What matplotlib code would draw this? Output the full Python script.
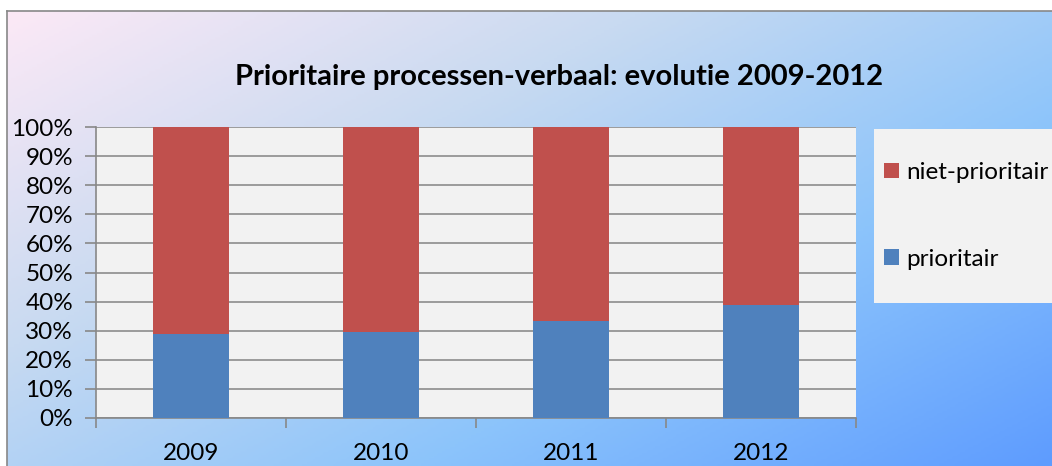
import numpy as np
import matplotlib.pyplot as plt
from matplotlib.patches import Rectangle
from matplotlib.colors import LinearSegmentedColormap

# Data (share of processen-verbaal)
years = ["2009", "2010", "2011", "2012"]
prioritair = [0.289, 0.295, 0.333, 0.388]
niet_prioritair = [1 - p for p in prioritair]

W, H = 1052, 466
fig = plt.figure(figsize=(W / 100, H / 100), dpi=100)
fig.patch.set_facecolor("white")

# gradient background of the chart area
bg = fig.add_axes([7 / W, 0, 1 - 7 / W, (H - 11) / H])
yy, xx = np.mgrid[0:1:200j, 0:1:400j]
t = 0.55 * xx + 0.45 * yy
cmap = LinearSegmentedColormap.from_list(
    "bg", ["#fce9f6", "#c8daf1", "#8cc4fb", "#5e9cff"]
)
bg.imshow(t, cmap=cmap, aspect="auto", extent=[0, 1, 0, 1], origin="upper")
bg.set_xlim(0, 1)
bg.set_ylim(0, 1)
bg.set_xticks([])
bg.set_yticks([])
for s in ["right", "bottom"]:
    bg.spines[s].set_visible(False)
for s in ["left", "top"]:
    bg.spines[s].set_color("#888888")
    bg.spines[s].set_linewidth(1.2)

font = "Lato"
fs = 17.5

ax = fig.add_axes([96 / W, (H - 418) / H, 760 / W, 291 / H])
ax.set_facecolor("#f2f2f2")
x = np.arange(len(years))
ax.bar(x, prioritair, width=0.4, color="#4f81bd", label="prioritair", zorder=3)
ax.bar(x, niet_prioritair, width=0.4, bottom=prioritair, color="#c0504d",
       label="niet-prioritair", zorder=3)

ax.set_xlim(-0.5, 3.5)
ax.set_ylim(0, 1)
ax.set_yticks(np.arange(0, 1.01, 0.1))
ax.set_yticklabels([f"{int(round(v * 100))}%" for v in np.arange(0, 1.01, 0.1)],
                   fontsize=fs, family=font)
ax.set_xticks(x)
ax.set_xticklabels(years, fontsize=fs, family=font)
ax.set_xticks(np.arange(-0.5, 3.6, 1), minor=True)
ax.tick_params(axis="x", which="major", length=0, pad=18)
ax.tick_params(axis="x", which="minor", length=7, color="#888888", width=1.2)
ax.tick_params(axis="y", length=8, color="#888888", width=1.2, pad=8.5)
ax.grid(axis="y", color="#8c8c8c", linewidth=1.2, zorder=1)
for s in ["top", "right"]:
    ax.spines[s].set_visible(False)
for s in ["left", "bottom"]:
    ax.spines[s].set_color("#888888")
    ax.spines[s].set_linewidth(1.2)

fig.text(559 / W, (H - 77) / H, "Prioritaire processen-verbaal: evolutie 2009-2012",
         ha="center", va="center", fontsize=21, fontweight="bold", family=font)

# legend box
fig.patches.append(Rectangle((874 / W, (H - 303) / H), (W - 874) / W, 174 / H,
                             transform=fig.transFigure, facecolor="#f2f2f2",
                             edgecolor="none", zorder=1))
handles, labels = ax.get_legend_handles_labels()
leg = fig.legend(handles[::-1], labels[::-1], loc="upper left",
                 bbox_to_anchor=(884 / W, (H - 162) / H), frameon=False,
                 prop={"family": font, "size": fs},
                 handlelength=0.62, handleheight=0.62, handletextpad=0.3,
                 labelspacing=2.7, borderaxespad=0, borderpad=0)

fig.savefig("out.png", dpi=100)
